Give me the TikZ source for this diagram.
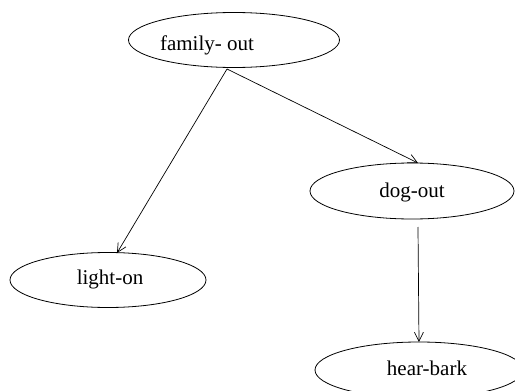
\documentclass[tikz,border=0pt]{standalone}
\usepackage{fontspec}
\setmainfont{Liberation Serif}
\usetikzlibrary{shapes.geometric,arrows.meta}
\begin{document}
\begin{tikzpicture}[x=1pt,y=-1pt,
  oval/.style={draw, ellipse, line width=0.8pt, inner sep=0pt},
  lbl/.style={font=\fontsize{21}{24}\selectfont, inner sep=0pt},
  edge/.style={draw, line width=0.7pt, -{Straight Barb[length=9pt,width=9pt,line width=0.7pt]}}]
\useasboundingbox (0,0) rectangle (515,391);
\node[oval, minimum width=211pt, minimum height=55pt] (fo) at (234,40) {};
\node[lbl] (fot) at (207,45) {family- out};
\node[oval, minimum width=204pt, minimum height=56pt] (do) at (412,191) {};
\node[lbl] (dot) at (412,192) {dog-out};
\node[oval, minimum width=196pt, minimum height=55pt] (lo) at (108,280) {};
\node[lbl] (lot) at (110,279) {light-on};
\node[oval, minimum width=208pt, minimum height=56pt] (hb) at (419,370) {};
\node[lbl] (hbt) at (427,368) {hear-bark};
\coordinate (fos) at (227,69);
\coordinate (dos) at (418,227);
\coordinate (loe) at (117,253);
\coordinate (doe) at (418,163);
\coordinate (hbe) at (419,342);
\draw[edge] (fos) -- (loe);
\draw[edge] (fos) -- (doe);
\draw[edge] (dos) -- (hbe);
\end{tikzpicture}
\end{document}
